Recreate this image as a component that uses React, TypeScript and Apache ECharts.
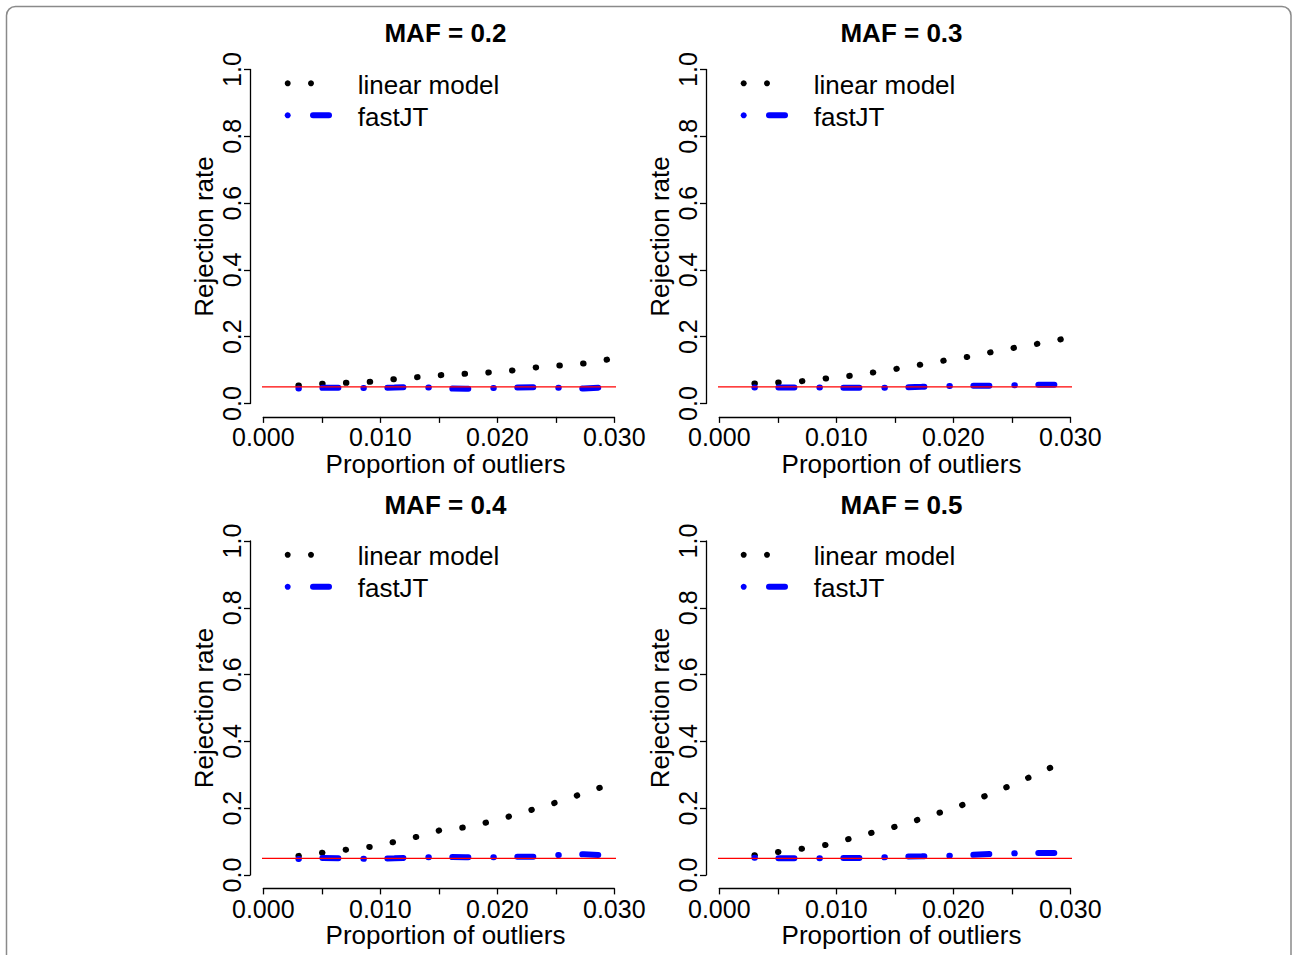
import React, { useEffect, useRef } from "react";
import * as echarts from "echarts";

// ---------- data ----------
const proportions = [0.003, 0.0051, 0.0071, 0.0091, 0.0112, 0.0132, 0.0152, 0.0173, 0.0193, 0.0213, 0.0233, 0.0254, 0.0274, 0.0295];

const panelTitles = ["MAF = 0.2", "MAF = 0.3", "MAF = 0.4", "MAF = 0.5"];

const linearModelMAF02 = [0.054, 0.059, 0.062, 0.065, 0.073, 0.079, 0.085, 0.089, 0.093, 0.099, 0.108, 0.114, 0.12, 0.132];
const linearModelMAF03 = [0.06, 0.063, 0.067, 0.075, 0.083, 0.093, 0.104, 0.117, 0.129, 0.14, 0.154, 0.168, 0.18, 0.194];
const linearModelMAF04 = [0.057, 0.067, 0.076, 0.084, 0.099, 0.115, 0.135, 0.143, 0.159, 0.178, 0.199, 0.221, 0.245, 0.27];
const linearModelMAF05 = [0.059, 0.069, 0.079, 0.09, 0.109, 0.128, 0.146, 0.169, 0.192, 0.216, 0.245, 0.275, 0.307, 0.34];

const fastJTMAF02 = [0.045, 0.047, 0.047, 0.046, 0.048, 0.05, 0.045, 0.044, 0.046, 0.048, 0.049, 0.047, 0.045, 0.049];
const fastJTMAF03 = [0.048, 0.048, 0.048, 0.048, 0.047, 0.047, 0.048, 0.05, 0.052, 0.053, 0.053, 0.055, 0.056, 0.056];
const fastJTMAF04 = [0.048, 0.051, 0.05, 0.048, 0.05, 0.053, 0.054, 0.053, 0.053, 0.055, 0.055, 0.06, 0.062, 0.059];
const fastJTMAF05 = [0.052, 0.05, 0.05, 0.05, 0.051, 0.051, 0.055, 0.056, 0.057, 0.06, 0.063, 0.065, 0.066, 0.066];

const linearModelSets = [linearModelMAF02, linearModelMAF03, linearModelMAF04, linearModelMAF05];
const fastJTSets = [fastJTMAF02, fastJTMAF03, fastJTMAF04, fastJTMAF05];

const nominalLevel = 0.05;
const plotRegionX = [-0.00114, 0.03226];

const seriesNames = ["linear model", "fastJT"];

// ---------- layout ----------
const FONT = "'Liberation Sans', Arial, Helvetica, sans-serif";
const PANEL_DX = [0, 456, 0, 456];
const PANEL_DY = [0, 0, 471.5, 471.5];
const GRID_LEFT = 263.3;
const GRID_TOP = 69.5;
const GRID_W = 351;
const GRID_H = 334;

const pair = (ys: number[]) => proportions.map((x, i) => [x, ys[i]]);

export default function App() {
  const ref = useRef<HTMLDivElement>(null);

  useEffect(() => {
    if (!ref.current) return;
    const chart = echarts.init(ref.current, null, { renderer: "svg" });

    const grids: any[] = [];
    const xAxes: any[] = [];
    const yAxes: any[] = [];
    const titles: any[] = [];
    const series: any[] = [];
    const graphics: any[] = [
      {
        type: "rect",
        silent: true,
        z: -10,
        shape: { x: 6.5, y: 6.5, width: 1284.5, height: 990, r: 9 },
        style: { fill: "none", stroke: "#8a8a8a", lineWidth: 1.5 },
      },
    ];

    const textStyle = { color: "#000", fontSize: 26, fontFamily: FONT, lineHeight: 26 };
    const tickStyle = { color: "#000", fontSize: 25, fontFamily: FONT, lineHeight: 25 };

    panelTitles.forEach((t, i) => {
      const dx = PANEL_DX[i];
      const dy = PANEL_DY[i];
      grids.push({ left: GRID_LEFT + dx, top: GRID_TOP + dy, width: GRID_W, height: GRID_H });
      titles.push({
        text: t,
        left: 445.5 + dx,
        top: 20 + dy,
        textAlign: "center",
        padding: 0,
        textStyle: { ...textStyle, fontWeight: "bold" },
      });
      xAxes.push({
        gridIndex: i,
        type: "value",
        min: 0,
        max: 0.03,
        interval: 0.005,
        offset: 13.4,
        axisLine: { show: true, onZero: false, lineStyle: { color: "#000", width: 1.3 } },
        axisTick: { show: true, length: 6, lineStyle: { color: "#000", width: 1.3 } },
        axisLabel: {
          ...tickStyle,
          margin: 8,
          showMinLabel: true,
          showMaxLabel: true,
          formatter: (v: number) => (Math.round(v * 1000) % 10 === 0 ? v.toFixed(3) : ""),
        },
        splitLine: { show: false },
        name: "Proportion of outliers",
        nameLocation: "middle",
        nameGap: 34,
        nameTextStyle: { ...textStyle, padding: [0, 0, 0, 13.4] },
      });
      yAxes.push({
        gridIndex: i,
        type: "value",
        min: 0,
        max: 1,
        interval: 0.2,
        offset: 13.3,
        axisLine: { show: true, onZero: false, lineStyle: { color: "#000", width: 1.3 } },
        axisTick: { show: true, length: 6, lineStyle: { color: "#000", width: 1.3 } },
        axisLabel: {
          ...tickStyle,
          rotate: 90,
          margin: 5.5,
          showMinLabel: true,
          showMaxLabel: true,
          formatter: (v: number) => v.toFixed(1),
        },
        splitLine: { show: false },
        name: "Rejection rate",
        nameLocation: "middle",
        nameRotate: 90,
        nameGap: 33,
        nameTextStyle: textStyle,
      });

      series.push({
        name: seriesNames[0],
        type: "line",
        xAxisIndex: i,
        yAxisIndex: i,
        data: pair(linearModelSets[i]),
        symbol: "none",
        showSymbol: false,
        z: 2,
        lineStyle: { color: "#000", width: 6, type: [0.5, 23.3], cap: "round" },
      });
      series.push({
        name: seriesNames[1],
        type: "line",
        xAxisIndex: i,
        yAxisIndex: i,
        data: pair(fastJTSets[i]),
        symbol: "none",
        showSymbol: false,
        z: 3,
        lineStyle: { color: "#0000ff", width: 6, type: [0.5, 23.5, 16, 25], cap: "round" },
      });
      series.push({
        name: "nominal level",
        type: "line",
        xAxisIndex: i,
        yAxisIndex: i,
        clip: false,
        data: [
          [plotRegionX[0], nominalLevel],
          [plotRegionX[1], nominalLevel],
        ],
        symbol: "none",
        showSymbol: false,
        z: 4,
        lineStyle: { color: "#ff0000", width: 1.2 },
      });

      // legend
      graphics.push(
        { type: "circle", silent: true, shape: { cx: 287.7 + dx, cy: 83.3 + dy, r: 3 }, style: { fill: "#000" } },
        { type: "circle", silent: true, shape: { cx: 311 + dx, cy: 83.3 + dy, r: 3 }, style: { fill: "#000" } },
        { type: "circle", silent: true, shape: { cx: 287.7 + dx, cy: 115.3 + dy, r: 3 }, style: { fill: "#0000ff" } },
        {
          type: "line",
          silent: true,
          shape: { x1: 313 + dx, y1: 115.3 + dy, x2: 329 + dx, y2: 115.3 + dy },
          style: { stroke: "#0000ff", lineWidth: 6, lineCap: "round" },
        },
        {
          type: "text",
          silent: true,
          x: 357.7 + dx,
          y: 84.5 + dy,
          style: { text: seriesNames[0], fill: "#000", font: `26px ${FONT}`, verticalAlign: "middle", align: "left" },
        },
        {
          type: "text",
          silent: true,
          x: 357.7 + dx,
          y: 116.5 + dy,
          style: { text: seriesNames[1], fill: "#000", font: `26px ${FONT}`, verticalAlign: "middle", align: "left" },
        }
      );
    });

    chart.setOption({
      animation: false,
      backgroundColor: "#fff",
      title: titles,
      grid: grids,
      xAxis: xAxes,
      yAxis: yAxes,
      series,
      graphic: graphics,
    });

    return () => chart.dispose();
  }, []);

  return (
    <div
      ref={ref}
      style={{ position: "fixed", left: 0, top: 0, width: 1292, height: 955, background: "#fff" }}
    />
  );
}
